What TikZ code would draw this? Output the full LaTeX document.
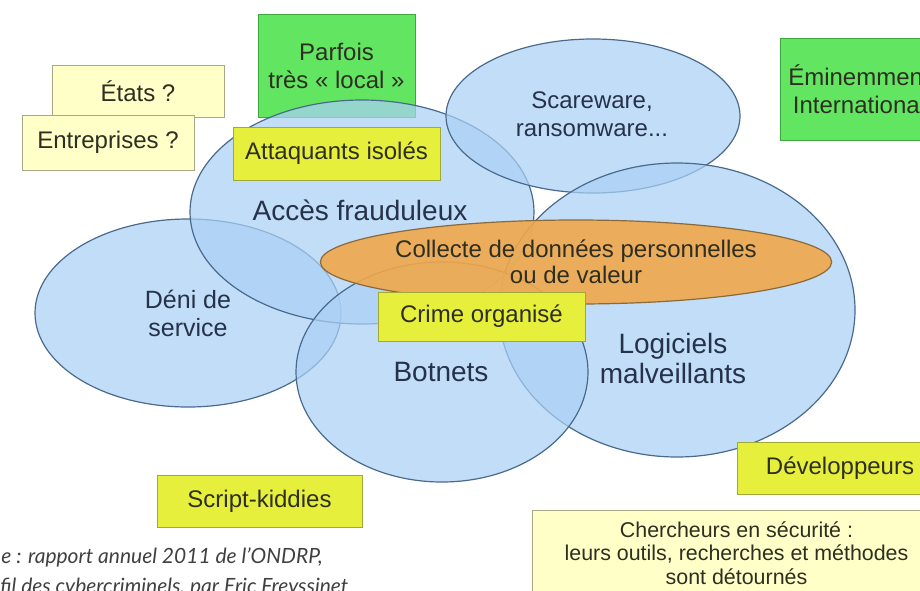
\documentclass[tikz,border=0pt]{standalone}
\usepackage{fontspec}
\setmainfont{Liberation Sans}
\newfontfamily\notefont{Lato}
\usepackage{xcolor}
\usetikzlibrary{shapes,positioning}

\definecolor{bubblefill}{HTML}{AAD0F5}
\definecolor{bubbleline}{HTML}{4A6A8C}
\definecolor{datafill}{HTML}{F0A84A}
\definecolor{dataline}{HTML}{8A6A3A}
\definecolor{actorfill}{HTML}{E6F03C}
\definecolor{actorline}{HTML}{A0A838}
\definecolor{reachfill}{HTML}{62E662}
\definecolor{reachline}{HTML}{3CA83C}
\definecolor{mutedfill}{HTML}{FFFFC8}
\definecolor{mutedline}{HTML}{A8A888}
\definecolor{inktext}{HTML}{26324A}
\definecolor{boxtext}{HTML}{2E2E22}

\begin{document}
\begin{tikzpicture}[x=0.5pt, y=-0.5pt,
    % Define styles
    bubble/.style={ellipse, draw=bubbleline, line width=0.6pt, fill=bubblefill, fill opacity=0.72, text opacity=1, inner sep=0pt},
    datazone/.style={ellipse, draw=dataline, line width=0.6pt, fill=datafill, fill opacity=0.9, text opacity=1, inner sep=0pt, align=center, text=boxtext, font=\fontsize{12}{13}\selectfont},
    tag/.style={align=center, text=inktext, inner sep=0pt},
    actor/.style={rectangle, draw=actorline, line width=0.5pt, fill=actorfill, inner sep=0pt, text=boxtext, font=\fontsize{12}{14}\selectfont},
    reach/.style={rectangle, draw=reachline, line width=0.5pt, fill=reachfill, inner sep=0pt, align=center, text=boxtext, font=\fontsize{12}{14}\selectfont},
    muted/.style={rectangle, draw=mutedline, line width=0.5pt, fill=mutedfill, inner sep=0pt, align=center, text=boxtext, font=\fontsize{12}{14}\selectfont},
    note/.style={inner sep=0pt, text=black!75, font=\notefont\itshape\fontsize{10.5}{12}\selectfont}
]
\useasboundingbox (0,0) rectangle (920,590);
\clip (0,0) rectangle (920,590);

% Pale boxes
\node[muted, minimum width=86pt, minimum height=26pt] (etats) at (138,91) {États ?};
\node[muted, minimum width=86pt, minimum height=27.5pt] (entreprises) at (108,142.5) {Entreprises ?};

% Green boxes
\node[reach, minimum width=78.5pt, minimum height=51.5pt] (local) at (336.5,65.5) {Parfois\\très «~local~»};
\node[reach, minimum width=78.5pt, minimum height=51pt] (international) at (859,89) {Éminemment\\International};

% Bubbles
\node[bubble, minimum width=153pt, minimum height=94pt] (deni) at (188,313) {};
\node[bubble, minimum width=172pt, minimum height=112pt] (acces) at (362,212) {};
\node[bubble, minimum width=147pt, minimum height=77pt] (scareware) at (593,116) {};
\node[bubble, minimum width=178pt, minimum height=147pt] (logiciels) at (677,310) {};
\node[bubble, minimum width=146pt, minimum height=110pt] (botnets) at (442,372) {};
\node[datazone, minimum width=214pt, minimum height=42pt] (collecte) at (576,262) {Collecte de données personnelles\\ou de valeur};

% Bubble labels
\node[tag, font=\fontsize{14}{15}\selectfont] (acceslabel) at (360,210) {Accès frauduleux};
\node[tag, font=\fontsize{12.5}{14}\selectfont] (denilabel) at (188,313) {Déni de\\service};
\node[tag, font=\fontsize{12}{14}\selectfont] (scarelabel) at (592,114) {Scareware,\\ransomware...};
\node[tag, font=\fontsize{14}{15}\selectfont] (logicielslabel) at (673,358) {Logiciels\\malveillants};
\node[tag, font=\fontsize{14}{15}\selectfont] (botnetslabel) at (441,372) {Botnets};

% Actors
\node[actor, minimum width=103.5pt, minimum height=26.5pt] (isoles) at (336.5,153.5) {Attaquants isolés};
\node[actor, minimum width=103.5pt, minimum height=24.5pt] (crime) at (481.5,316.5) {Crime organisé};
\node[actor, minimum width=102.5pt, minimum height=26pt] (kiddies) at (259.5,501) {Script-kiddies};
\node[actor, minimum width=103pt, minimum height=26pt] (devs) at (840,468) {Développeurs};
\node[muted, minimum width=204.5pt, minimum height=43pt, font=\fontsize{10.7}{11.75}\selectfont] (chercheurs) at (736.5,553) {Chercheurs en sécurité :\\leurs outils, recherches et méthodes\\sont détournés};

% Source
\node[note, anchor=base west] (source) at (1,563) {e : rapport annuel 2011 de l’ONDRP,};
\node[note, anchor=base west] (auteur) at (0,593) {fil des cybercriminels, par Eric Freyssinet};

\end{tikzpicture}
\end{document}
